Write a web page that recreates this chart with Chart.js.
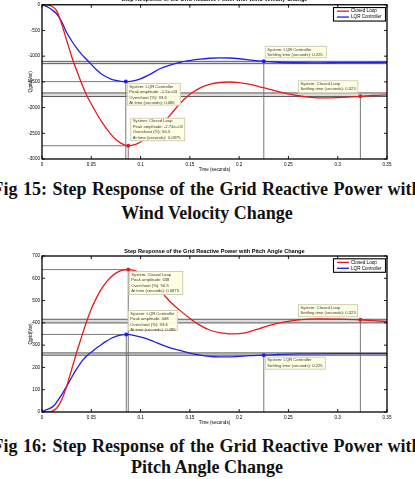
<!DOCTYPE html>
<html><head><meta charset="utf-8">
<script src="https://cdn.jsdelivr.net/npm/chart.js@4.4.0/dist/chart.umd.min.js"></script>
<style>
html,body{margin:0;padding:0;background:#fff;width:415px;height:479px;overflow:hidden;position:relative}
.cv{position:absolute;left:0;width:415px}
.cap{position:absolute;left:207px;transform:translateX(-50%);white-space:nowrap;font-family:"Liberation Serif","Times New Roman",serif;font-weight:bold;font-size:18px;line-height:22px;color:#111}
.w{word-spacing:1px}
</style></head><body>
<div class="cv" style="top:0;height:178px"><canvas id="c1"></canvas></div>
<div class="cap w" style="top:178px">Fig 15: Step Response of the Grid Reactive Power with</div>
<div class="cap" style="top:201.5px">Wind Velocity Change</div>
<div class="cv" style="top:240px;height:190px"><canvas id="c2"></canvas></div>
<div class="cap w" style="top:434.8px">Fig 16: Step Response of the Grid Reactive Power with</div>
<div class="cap" style="top:455.8px">Pitch Angle Change</div>
<script>
// ---------- data ----------
const seriesNames = ['Closed Loop', 'LQR Controller'];
const xTicks = [0, 0.05, 0.1, 0.15, 0.2, 0.25, 0.3, 0.35];
const windYTicks = [-3000, -2500, -2000, -1500, -1000, -500, 0];
const pitchYTicks = [0, 100, 200, 300, 400, 500, 600, 700];

// Fig 15: wind velocity change
const windTimeCL = [0,0.005,0.01,0.015,0.02,0.025,0.03,0.035,0.04,0.045,0.05,0.055,0.06,0.065,0.07,0.075,0.08,0.0875,0.095,0.1,0.11,0.12,0.13,0.14,0.15,0.16,0.17,0.18,0.19,0.2,0.21,0.22,0.23,0.24,0.25,0.26,0.27,0.28,0.29,0.3,0.31,0.323,0.335,0.35];
const windQgridCL = [0,-3,-30,-120,-380,-690,-1000,-1270,-1520,-1750,-1930,-2100,-2260,-2400,-2520,-2620,-2690,-2742,-2715,-2670,-2540,-2360,-2148,-1920,-1740,-1620,-1550,-1512,-1502,-1515,-1545,-1590,-1640,-1690,-1735,-1770,-1795,-1810,-1812,-1805,-1795,-1780,-1765,-1752];
const windTimeLQR = [0,0.005,0.01,0.015,0.02,0.025,0.03,0.035,0.04,0.045,0.05,0.055,0.06,0.065,0.07,0.075,0.08,0.085,0.09,0.1,0.11,0.12,0.13,0.14,0.15,0.16,0.17,0.18,0.19,0.2,0.21,0.225,0.24,0.26,0.28,0.3,0.32,0.35];
const windQgridLQR = [0,-35,-95,-180,-330,-540,-700,-840,-960,-1060,-1160,-1260,-1340,-1400,-1445,-1473,-1490,-1495,-1490,-1440,-1350,-1240,-1175,-1120,-1085,-1058,-1040,-1033,-1036,-1050,-1072,-1100,-1118,-1128,-1130,-1127,-1124,-1122];
const windPeakTime = [0.0875, 0.085];
const windPeakValue = [-2742, -1495];
const windFinalValue = [-1750, -1123];
const windSettleTime = [0.323, 0.225];
const windSettleValue = [-1780, -1100];
const windPeakText = ['-2.74e+03', '-1.5e+03'];
const windOvershootText = ['56.5', '33.6'];
const windPeakTimeText = ['0.0875', '0.086'];

// Fig 16: pitch angle change
const pitchTimeCL = [0,0.005,0.01,0.015,0.02,0.025,0.03,0.035,0.04,0.045,0.05,0.055,0.06,0.065,0.07,0.075,0.08,0.0875,0.095,0.1,0.11,0.12,0.13,0.14,0.15,0.16,0.17,0.18,0.19,0.2,0.21,0.22,0.23,0.245,0.26,0.28,0.3,0.323,0.335,0.35];
const pitchQgridCL = [0,0,3,18,55,115,190,265,335,403,462,510,550,582,606,623,634,639,633,622,590,545,495,456,420,390,368,356,351,352,360,373,388,403,413,418,417,414,410,406];
const pitchTimeLQR = [0,0.003,0.008,0.012,0.015,0.02,0.025,0.03,0.035,0.04,0.045,0.05,0.055,0.06,0.065,0.07,0.075,0.08,0.0855,0.095,0.106,0.115,0.123,0.13,0.14,0.15,0.157,0.165,0.174,0.19,0.2,0.21,0.225,0.24,0.26,0.3,0.35];
const pitchQgridLQR = [0,8,16,28,45,78,115,155,192,225,250,268,286,302,317,330,339,345,348,342,329,313,299,288,276,264,258,252,248,247,250,253,255,258,261,262,262];
const pitchPeakTime = [0.0875, 0.0855];
const pitchPeakValue = [639, 348];
const pitchFinalValue = [408, 260];
const pitchSettleTime = [0.323, 0.225];
const pitchSettleValue = [414, 255];
const pitchPeakText = ['638', '348'];
const pitchOvershootText = ['56.5', '33.6'];
const pitchPeakTimeText = ['0.0875', '0.086'];

// ---------- styles ----------
const lineColors = ['rgb(235,25,25)', 'rgb(30,30,235)'];
const FONT = '"Liberation Sans", Arial, sans-serif';

function pts(t, v) { return t.map((x, i) => ({x: x, y: v[i]})); }

function makePlugin(cfg) {
  return {
    id: 'matlabDecor',
    beforeDatasetsDraw(chart) {
      const ctx = chart.ctx, xs = chart.scales.x, ys = chart.scales.y, a = chart.chartArea;
      ctx.save();
      for (let i = 0; i < 2; i++) {
        const f = cfg.final[i];
        const y1 = ys.getPixelForValue(f * 1.02), y2 = ys.getPixelForValue(f * 0.98);
        ctx.fillStyle = 'rgba(0,0,0,0.14)';
        ctx.fillRect(a.left, Math.min(y1, y2), a.right - a.left, Math.abs(y2 - y1));
        ctx.strokeStyle = '#5a5a5a'; ctx.lineWidth = 1;
        [y1, y2].forEach(y => { ctx.beginPath(); ctx.moveTo(a.left, y); ctx.lineTo(a.right, y); ctx.stroke(); });
      }
      ctx.strokeStyle = '#6a6a6a'; ctx.lineWidth = 0.9;
      for (let i = 0; i < 2; i++) {
        const px = xs.getPixelForValue(cfg.peakT[i]), py = ys.getPixelForValue(cfg.peakV[i]);
        ctx.beginPath(); ctx.moveTo(a.left, py); ctx.lineTo(px, py); ctx.lineTo(px, a.bottom); ctx.stroke();
        const sx = xs.getPixelForValue(cfg.settleT[i]), sy = ys.getPixelForValue(cfg.settleV[i]);
        ctx.beginPath(); ctx.moveTo(sx, sy); ctx.lineTo(sx, a.bottom); ctx.stroke();
      }
      ctx.restore();
    },
    afterDatasetsDraw(chart) {
      const ctx = chart.ctx, xs = chart.scales.x, ys = chart.scales.y;
      ctx.save();
      for (let i = 0; i < 2; i++) {
        ctx.fillStyle = lineColors[i];
        [[cfg.peakT[i], cfg.peakV[i]], [cfg.settleT[i], cfg.settleV[i]]].forEach(p => {
          ctx.beginPath(); ctx.arc(xs.getPixelForValue(p[0]), ys.getPixelForValue(p[1]), 2, 0, Math.PI * 2); ctx.fill();
        });
      }
      cfg.boxes.forEach(b => {
        const ax = xs.getPixelForValue(b.t), ay = ys.getPixelForValue(b.v);
        const x = ax + b.dx, y = ay + b.dy;
        ctx.fillStyle = 'rgba(255,255,225,0.95)';
        ctx.fillRect(x, y, b.w, b.h);
        ctx.strokeStyle = '#c4c4ae'; ctx.lineWidth = 0.8;
        ctx.strokeRect(x + 0.5, y + 0.5, b.w - 1, b.h - 1);
        ctx.fillStyle = '#3a3a3a';
        ctx.font = '4.2px ' + FONT;
        ctx.textBaseline = 'middle'; ctx.textAlign = 'left';
        b.lines.forEach((s, k) => ctx.fillText(s, x + 2.5, y + 3.6 + k * 5.4));
      });
      ctx.restore();
    },
    afterDraw(chart) {
      const ctx = chart.ctx, xs = chart.scales.x, ys = chart.scales.y, a = chart.chartArea;
      ctx.save();
      ctx.strokeStyle = '#000'; ctx.lineWidth = 1.3;
      ctx.strokeRect(a.left, a.top, a.right - a.left, a.bottom - a.top);
      ctx.lineWidth = 0.9;
      xTicks.forEach(v => {
        const x = xs.getPixelForValue(v);
        ctx.beginPath(); ctx.moveTo(x, a.bottom); ctx.lineTo(x, a.bottom - 3);
        ctx.moveTo(x, a.top); ctx.lineTo(x, a.top + 3); ctx.stroke();
      });
      cfg.yTicks.forEach(v => {
        const y = ys.getPixelForValue(v);
        ctx.beginPath(); ctx.moveTo(a.left, y); ctx.lineTo(a.left + 3, y);
        ctx.moveTo(a.right, y); ctx.lineTo(a.right - 3, y); ctx.stroke();
      });
      ctx.fillStyle = '#000';
      ctx.font = 'bold 5.6px ' + FONT;
      ctx.textAlign = 'center'; ctx.textBaseline = 'middle';
      ctx.fillText(cfg.title, (a.left + a.right) / 2, a.top - 5);
      ctx.font = '4.6px ' + FONT;
      ctx.fillText('Time (seconds)', (a.left + a.right) / 2, a.bottom + 11);
      ctx.save();
      ctx.translate(30.5, (a.top + a.bottom) / 2);
      ctx.rotate(-Math.PI / 2);
      ctx.fillText('Qgrid(Var)', 0, 0);
      ctx.restore();
      const lw = 52, lh = 13.5, lx = a.right - 1.5 - lw, ly = a.top + 2.8;
      ctx.fillStyle = '#fff'; ctx.fillRect(lx, ly, lw, lh);
      ctx.strokeStyle = '#000'; ctx.lineWidth = 1.1; ctx.strokeRect(lx, ly, lw, lh);
      ctx.font = '4.6px ' + FONT; ctx.textAlign = 'left';
      seriesNames.forEach((n, i) => {
        const yy = ly + 3.6 + i * 5.9;
        ctx.strokeStyle = lineColors[i]; ctx.lineWidth = 1.3;
        ctx.beginPath(); ctx.moveTo(lx + 3.5, yy); ctx.lineTo(lx + 15.5, yy); ctx.stroke();
        ctx.fillStyle = '#000'; ctx.fillText(n, lx + 17.5, yy);
      });
      ctx.restore();
    }
  };
}

function makeChart(id, cfg) {
  const ds = (i, t, v) => ({
    label: seriesNames[i], data: pts(t, v), borderColor: lineColors[i], borderWidth: 1.3,
    pointRadius: 0, fill: false, cubicInterpolationMode: 'monotone'
  });
  const tickFont = {family: FONT, size: 4.6};
  return new Chart(document.getElementById(id), {
    type: 'line',
    data: {datasets: [ds(0, cfg.tCL, cfg.vCL), ds(1, cfg.tLQR, cfg.vLQR)]},
    options: {
      responsive: true, maintainAspectRatio: false, animation: false,
      layout: {padding: {left: 0, right: 28, top: cfg.padTop, bottom: 0}},
      plugins: {legend: {display: false}, tooltip: {enabled: false}},
      scales: {
        x: {
          type: 'linear', min: 0, max: 0.35,
          afterBuildTicks: s => { s.ticks = xTicks.map(v => ({value: v})); },
          ticks: {font: tickFont, color: '#000', padding: 2.5, autoSkip: false, maxRotation: 0,
                  callback: v => String(Math.round(v * 100) / 100)},
          grid: {display: false, drawTicks: false}, border: {display: false},
          afterFit: s => { s.height = cfg.xH; }
        },
        y: {
          type: 'linear', min: cfg.yTicks[0], max: cfg.yTicks[cfg.yTicks.length - 1],
          afterBuildTicks: s => { s.ticks = cfg.yTicks.map(v => ({value: v})); },
          ticks: {font: tickFont, color: '#000', padding: 2, autoSkip: false,
                  callback: v => String(v)},
          grid: {display: false, drawTicks: false}, border: {display: false},
          afterFit: s => { s.width = 42; }
        }
      }
    },
    plugins: [makePlugin(cfg)]
  });
}

const L = i => seriesNames[i];
makeChart('c1', {
  title: 'Step Response of the Grid Reactive Power with Wind Velocity Change',
  padTop: 4, xH: 19, yTicks: windYTicks,
  tCL: windTimeCL, vCL: windQgridCL, tLQR: windTimeLQR, vLQR: windQgridLQR,
  peakT: windPeakTime, peakV: windPeakValue, final: windFinalValue,
  settleT: windSettleTime, settleV: windSettleValue,
  boxes: [
    {t: windPeakTime[1], v: windPeakValue[1], dx: 1, dy: 1.5, w: 54, h: 22.5,
     lines: ['System: ' + L(1), 'Peak amplitude: ' + windPeakText[1], 'Overshoot (%): ' + windOvershootText[1], 'At time (seconds): ' + windPeakTimeText[1]]},
    {t: windPeakTime[0], v: windPeakValue[0], dx: 2, dy: -28, w: 55, h: 23.5,
     lines: ['System: ' + L(0), 'Peak amplitude: ' + windPeakText[0], 'Overshoot (%): ' + windOvershootText[0], 'At time (seconds): ' + windPeakTimeText[0]]},
    {t: windSettleTime[1], v: windSettleValue[1], dx: 1, dy: -15.5, w: 62, h: 12.5,
     lines: ['System: ' + L(1), 'Settling time (seconds): ' + windSettleTime[1]]},
    {t: windSettleTime[0], v: windSettleValue[0], dx: -62.5, dy: -16, w: 60.5, h: 13,
     lines: ['System: ' + L(0), 'Settling time (seconds): ' + windSettleTime[0]]}
  ]
});
makeChart('c2', {
  title: 'Step Response of the Grid Reactive Power with Pitch Angle Change',
  padTop: 16, xH: 18, yTicks: pitchYTicks,
  tCL: pitchTimeCL, vCL: pitchQgridCL, tLQR: pitchTimeLQR, vLQR: pitchQgridLQR,
  peakT: pitchPeakTime, peakV: pitchPeakValue, final: pitchFinalValue,
  settleT: pitchSettleTime, settleV: pitchSettleValue,
  boxes: [
    {t: pitchPeakTime[0], v: pitchPeakValue[0], dx: 0.5, dy: 1.5, w: 54.5, h: 24,
     lines: ['System: ' + L(0), 'Peak amplitude: ' + pitchPeakText[0], 'Overshoot (%): ' + pitchOvershootText[0], 'At time (seconds): ' + pitchPeakTimeText[0]]},
    {t: pitchPeakTime[1], v: pitchPeakValue[1], dx: 1.5, dy: -24.5, w: 50, h: 21,
     lines: ['System: ' + L(1), 'Peak amplitude: ' + pitchPeakText[1], 'Overshoot (%): ' + pitchOvershootText[1], 'At time (seconds): ' + pitchPeakTimeText[1]]},
    {t: pitchSettleTime[0], v: pitchSettleValue[0], dx: -62.5, dy: -15.5, w: 60, h: 13,
     lines: ['System: ' + L(0), 'Settling time (seconds): ' + pitchSettleTime[0]]},
    {t: pitchSettleTime[1], v: pitchSettleValue[1], dx: 1, dy: 1.5, w: 61, h: 13,
     lines: ['System: ' + L(1), 'Settling time (seconds): ' + pitchSettleTime[1]]}
  ]
});
</script>
</body></html>
